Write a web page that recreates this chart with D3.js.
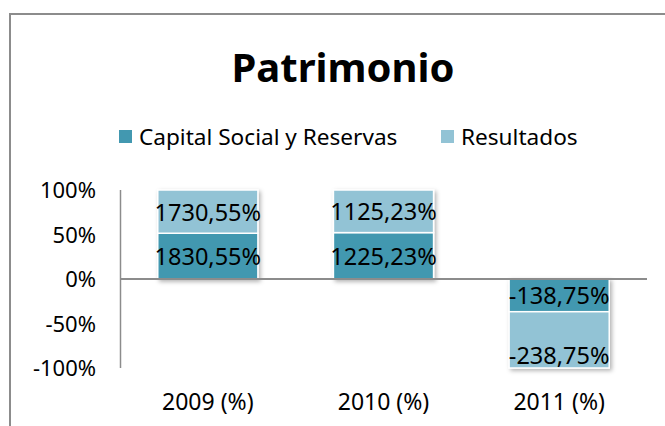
<!DOCTYPE html>
<html>
<head>
<meta charset="utf-8">
<script src="https://cdn.jsdelivr.net/npm/d3@7"></script>
<style>
  body { margin: 0; background: #fff; }
  svg { display: block; font-family: "Noto Sans", "Open Sans", sans-serif; }
</style>
</head>
<body>
<div id="chart"></div>
<script>
// Data
const years = ["2009 (%)", "2010 (%)", "2011 (%)"];
const seriesNames = ["Capital Social y Reservas", "Resultados"];
const capital = [1830.55, 1225.23, -138.75];
const resultados = [1730.55, 1125.23, -238.75];
const yTicks = [100, 50, 0, -50, -100];
const colors = ["#4298B0", "#92C3D5"];

const W = 665, H = 426;
const svg = d3.select("#chart").append("svg")
    .attr("width", W)
    .attr("height", H);

// shadow for bars
const defs = svg.append("defs");
const f = defs.append("filter").attr("id", "shadow")
    .attr("x", "-10%").attr("y", "-10%").attr("width", "130%").attr("height", "130%");
f.append("feDropShadow")
    .attr("dx", 2).attr("dy", 2).attr("stdDeviation", 2)
    .attr("flood-color", "#000").attr("flood-opacity", 0.3);

// outer chart border (cut off at right & bottom)
svg.append("rect")
    .attr("x", 10).attr("y", 14)
    .attr("width", W + 20).attr("height", H + 20)
    .attr("fill", "none")
    .attr("stroke", "#8c8c8c")
    .attr("stroke-width", 2);

// title
svg.append("text")
    .attr("x", 343).attr("y", 82)
    .attr("text-anchor", "middle")
    .style("font-size", "40px")
    .style("font-weight", "bold")
    .text("Patrimonio");

// legend
const legendX = [119, 441];
seriesNames.forEach((name, i) => {
    svg.append("rect")
        .attr("x", legendX[i]).attr("y", 130)
        .attr("width", 13).attr("height", 13)
        .attr("fill", colors[i]);
    svg.append("text")
        .attr("x", legendX[i] + 20).attr("y", 145)
        .style("font-size", "22.6px")
        .text(name);
});

// scales
const x = d3.scaleBand()
    .domain(years)
    .range([120, 647])
    .paddingInner(0.43)
    .paddingOuter(0.215);

const y = d3.scaleLinear()
    .domain([-100, 100])
    .range([368, 190]);

// percent-stacked values
const stacked = years.map((yr, i) => {
    const total = capital[i] + resultados[i];
    const pc = capital[i] / total * 100;
    const pr = resultados[i] / total * 100;
    const sign = total < 0 ? -1 : 1;
    return [
        { year: yr, y0: 0, y1: sign * pc, value: capital[i], s: 0 },
        { year: yr, y0: sign * pc, y1: sign * (pc + pr), value: resultados[i], s: 1 }
    ];
}).flat();

// y axis (line only, no ticks)
svg.append("line")
    .attr("x1", 120.5).attr("x2", 120.5)
    .attr("y1", y(100)).attr("y2", y(-100))
    .attr("stroke", "#8c8c8c").attr("stroke-width", 1.5);

svg.append("g").selectAll("text")
    .data(yTicks)
    .enter().append("text")
    .attr("x", 96)
    .attr("y", d => y(d) + 8)
    .attr("text-anchor", "end")
    .style("font-size", "22px")
    .text(d => d + "%");

// bars
const bars = svg.append("g").attr("filter", "url(#shadow)");
bars.selectAll("rect")
    .data(stacked)
    .enter().append("rect")
    .attr("x", d => x(d.year))
    .attr("width", x.bandwidth())
    .attr("y", d => y(Math.max(d.y0, d.y1)))
    .attr("height", d => Math.abs(y(d.y0) - y(d.y1)))
    .attr("fill", d => colors[d.s])
    .attr("stroke", "#fff")
    .attr("stroke-width", 1.5);

// zero line
svg.append("line")
    .attr("x1", 120).attr("x2", 647)
    .attr("y1", y(0)).attr("y2", y(0))
    .attr("stroke", "#8c8c8c").attr("stroke-width", 2);

// data labels
const fmt = v => d3.format(".2f")(v).replace(".", ",").replace("−", "-") + "%";
svg.append("g").selectAll("text")
    .data(stacked)
    .enter().append("text")
    .attr("x", d => x(d.year) + x.bandwidth() / 2)
    .attr("y", d => {
        const mid = (y(d.y0) + y(d.y1)) / 2;
        // Excel pushes the long negative label toward the bar end
        return (d.value < 0 && d.s === 1 ? mid + 15 : mid) + 9;
    })
    .attr("text-anchor", "middle")
    .style("font-size", "23.5px")
    .text(d => fmt(d.value));

// x labels
svg.append("g").selectAll("text")
    .data(years)
    .enter().append("text")
    .attr("x", d => x(d) + x.bandwidth() / 2)
    .attr("y", 410)
    .attr("text-anchor", "middle")
    .style("font-size", "23px")
    .text(d => d);
</script>
</body>
</html>
